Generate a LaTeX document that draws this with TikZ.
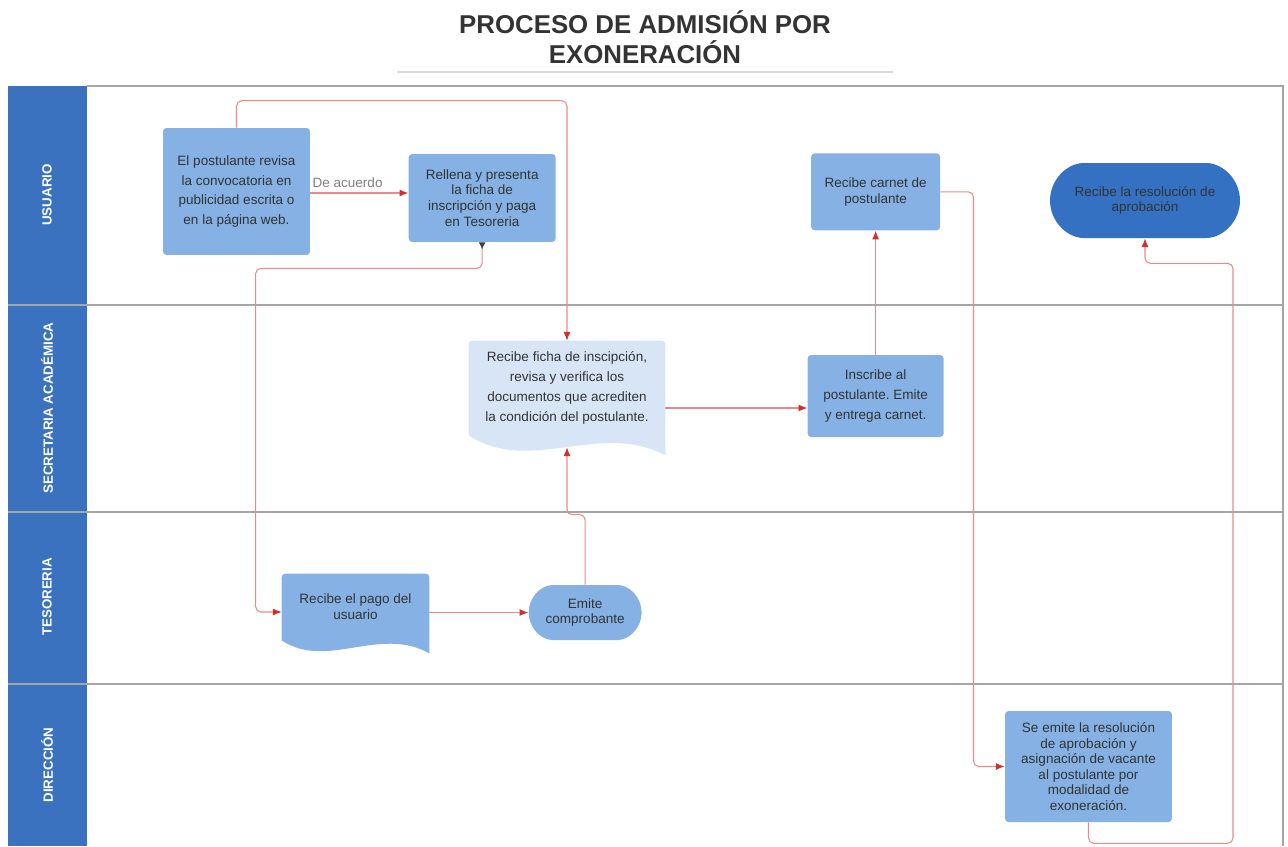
\documentclass[tikz,border=0pt]{standalone}
\usepackage{fontspec}
\setmainfont{Liberation Sans}
\usetikzlibrary{positioning,arrows.meta,shapes.misc}
\frenchspacing

\definecolor{laneblue}{HTML}{3A72BF}
\definecolor{boxblue}{HTML}{85B1E4}
\definecolor{paleblue}{HTML}{D7E5F6}
\definecolor{darkblue}{HTML}{3471C2}
\definecolor{flowred}{HTML}{EA8A8A}
\definecolor{tipred}{HTML}{D32F2F}
\definecolor{txt}{HTML}{333333}
\definecolor{laneline}{HTML}{A6A6A6}

\tikzset{
    task/.style={rectangle, rounded corners=2pt, fill=boxblue, text=txt, align=center, inner sep=2pt, font=\fontsize{7.7}{9}\selectfont},
    wide/.style={font=\fontsize{7.7}{11.3}\selectfont},
    pill/.style={task, rounded rectangle},
    doc/.style={rectangle, text=txt, align=center, inner sep=2pt, font=\fontsize{7.7}{11.3}\selectfont},
    flow/.style={draw=flowred, line width=0.6pt, rounded corners=3pt, arrows={-Latex[length=5pt,width=4pt,color=tipred]}},
    lanelabel/.style={rotate=90, text=white, font=\fontsize{7.6}{9}\selectfont\bfseries},
}

\begin{document}
\begin{tikzpicture}[x=0.02cm, y=-0.02cm]
    \useasboundingbox (0,0) rectangle (1288,846);
    \node [font=\fontsize{14.7}{17}\selectfont\bfseries, text=txt, align=center] (title) at (645,37) {PROCESO DE ADMISIÓN POR\\EXONERACIÓN};
    \draw [gray!30, line width=0.8pt] (397,72) -- (893,72);

    \fill [laneblue] (8,86) rectangle (87,846);
    \draw [laneline, line width=1pt] (87,86) -- (1283,86) -- (1283,846);
    \foreach \y in {305,512,684}
        \draw [laneline, line width=1.2pt] (8,\y) -- (1284,\y);
    \node [lanelabel] (usuario) at (47,195) {USUARIO};
    \node [lanelabel] (secretaria) at (47,408) {SECRETARIA ACADÉMICA};
    \node [lanelabel] (tesoreria) at (47,597) {TESORERIA};
    \node [lanelabel] (direccion) at (47,765) {DIRECCIÓN};

    \node [task, wide, minimum width=2.94cm, minimum height=2.54cm] (revisa) at (236.5,191.5) {El postulante revisa\\la convocatoria en\\publicidad escrita o\\en la página web.};
    \node [task, minimum width=2.94cm, minimum height=1.76cm, right = 1.96cm of revisa, yshift=-0.13cm] (rellena) {Rellena y presenta\\la ficha de\\inscripción y paga\\en Tesoreria};
    \node [doc, minimum width=3.92cm, minimum height=1.88cm] (ficha) at (567,388) {Recibe ficha de inscipción,\\revisa y verifica los\\documentos que acrediten\\la condición del postulante.};
    \node [task, wide, minimum width=2.72cm, minimum height=1.64cm, right = 2.84cm of ficha, yshift=-0.16cm] (inscribe) {Inscribe al\\postulante. Emite\\y entrega carnet.};
    \node [task, minimum width=2.58cm, minimum height=1.54cm, above = 2.48cm of inscribe] (carnet) {Recibe carnet de\\postulante};
    \node [pill, fill=darkblue, minimum width=3.94cm, minimum height=1.5cm] (aprobacion) at (1145,200.5) {Recibe la resolución de\\aprobación};
    \node [doc, font=\fontsize{7.7}{9}\selectfont, minimum width=2.94cm, minimum height=1.32cm] (pago) at (355.5,607) {Recibe el pago del\\usuario};
    \node [pill, minimum width=2.4cm, minimum height=1.1cm, right = 1.98cm of pago, yshift=-0.11cm] (comprobante) {Emite\\comprobante};
    \node [task, font=\fontsize{7.7}{8.8}\selectfont, minimum width=3.34cm, minimum height=2.22cm] (resolucion) at (1088.5,766.5) {Se emite la resolución\\de aprobación y\\asignación de vacante\\al postulante por\\modalidad de\\exoneración.};

    \fill [paleblue, rounded corners=2pt] (ficha.south west) -- (ficha.north west) -- (ficha.north east) [sharp corners] -- ([yshift=-0.4cm]ficha.south east) .. controls +(-1.3cm,0.7cm) and +(1.22cm,-0.8cm) .. (ficha.south west) -- cycle;
    \fill [boxblue, rounded corners=2pt] (pago.south west) -- (pago.north west) -- (pago.north east) [sharp corners] -- ([yshift=-0.26cm]pago.south east) .. controls +(-1cm,0.56cm) and +(0.9cm,-0.6cm) .. (pago.south west) -- cycle;
    \node [doc, minimum width=3.92cm, minimum height=1.88cm] (fichatext) at (ficha) {Recibe ficha de inscipción,\\revisa y verifica los\\documentos que acrediten\\la condición del postulante.};
    \node [doc, font=\fontsize{7.7}{9}\selectfont, minimum width=2.94cm, minimum height=1.32cm] (pagotext) at (pago) {Recibe el pago del\\usuario};

    \draw [flow] ([yshift=-0.03cm]revisa.east) -- ([yshift=-0.03cm]revisa.east -| rellena.west)
        node [pos=0, above right, text=gray, font=\fontsize{7.7}{9}\selectfont, inner sep=1pt, yshift=2pt] (acuerdo) {De acuerdo};
    \draw [flow] (revisa.north) -- ++(0,0.54cm) -| (ficha.north);
    \draw [flow, arrows={Latex[reversed,length=4pt,width=4pt,color=darkgray]-Latex[length=5pt,width=4pt,color=tipred]}] (rellena.south) -- ++(0,-0.52cm) -| ([xshift=-0.52cm,yshift=-0.1cm]pago.west) -- ([yshift=-0.1cm]pago.west);
    \draw [flow] (pago.east |- comprobante.west) -- (comprobante.west);
    \draw [flow] (comprobante.north) -- ++(0,1.4cm) -| ([yshift=-0.24cm]ficha.south);
    \draw [flow] ([yshift=-0.4cm]ficha.east) -- ([yshift=-0.4cm]ficha.east -| inscribe.west);
    \draw [flow] (inscribe.north) -- (carnet.south);
    \draw [flow] (carnet.east) -- ++(0.66cm,0) |- (resolucion.west);
    \draw [flow] (resolucion.south) -- ++(0,-0.42cm) -| ([xshift=1.76cm,yshift=-0.5cm]aprobacion.south) -| (aprobacion.south);
\end{tikzpicture}
\end{document}
